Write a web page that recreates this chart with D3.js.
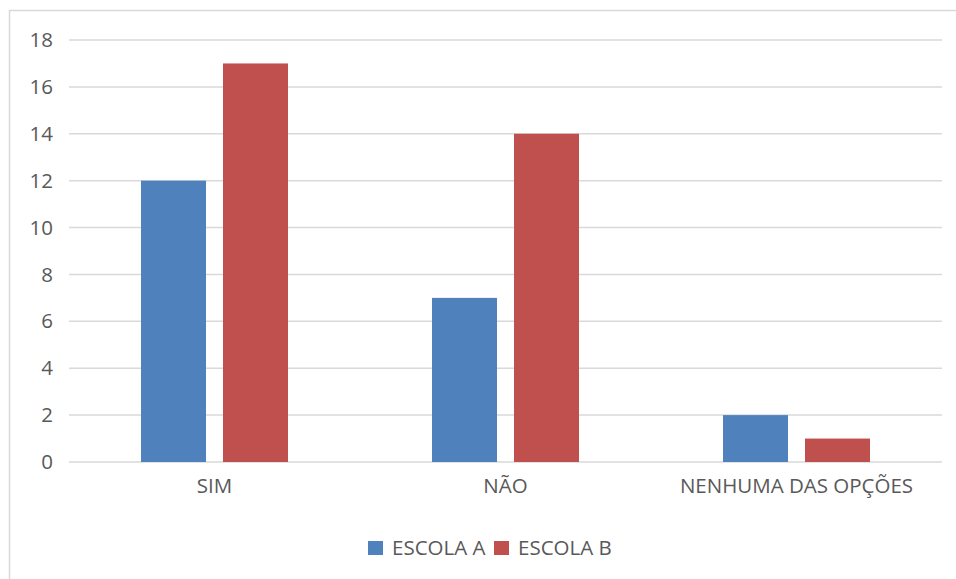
<!DOCTYPE html>
<html><head><meta charset="utf-8">
<script src="https://cdn.jsdelivr.net/npm/d3@7"></script>
<style>body{margin:0;background:#fff;} text{font-family:"Open Sans",sans-serif;fill:#595959;}</style>
</head><body><svg id="c" width="956" height="579"></svg>
<script>
const categories = ["SIM", "NÃO", "NENHUMA DAS OPÇÕES"];
const seriesNames = ["ESCOLA A", "ESCOLA B"];
const escolaA = [12, 7, 2];
const escolaB = [17, 14, 1];
const yTicks = [0, 2, 4, 6, 8, 10, 12, 14, 16, 18];
const colors = ["#4f81bd", "#c0504d"];
const fs = "20.5px";

const svg = d3.select("#c");
// outer border
svg.append("rect").attr("x", 9.5).attr("y", 10.5).attr("width", 960).attr("height", 600)
  .attr("fill", "none").attr("stroke", "#d9d9d9").attr("stroke-width", 1.5);

const x0 = d3.scaleBand().domain(categories).range([69, 942]).paddingInner(0).paddingOuter(0);
const y = d3.scaleLinear().domain([0, 18]).range([462, 40]);

// gridlines
svg.append("g").selectAll("line").data(yTicks).join("line")
  .attr("x1", 69).attr("x2", 942).attr("y1", d => y(d)).attr("y2", d => y(d))
  .attr("stroke", "#d9d9d9").attr("stroke-width", 1.5);

// y axis labels
const yAxis = d3.axisLeft(y).tickValues(yTicks).tickSize(0).tickPadding(0);
const gy = svg.append("g").attr("transform", "translate(53,0)").call(yAxis);
gy.select(".domain").remove();
gy.selectAll("text").style("font-size", fs).attr("fill", "#595959").style("font-family", "'Open Sans',sans-serif");

// bars
const barW = 65, gap = 17;
const data = categories.map((c, i) => ({c, vals: [escolaA[i], escolaB[i]]}));
const groups = svg.append("g").selectAll("g").data(data).join("g")
  .attr("transform", d => `translate(${x0(d.c) + (x0.bandwidth() - (2 * barW + gap)) / 2},0)`);
groups.selectAll("rect").data(d => d.vals).join("rect")
  .attr("x", (d, j) => j * (barW + gap)).attr("width", barW)
  .attr("y", d => y(d)).attr("height", d => y(0) - y(d))
  .attr("fill", (d, j) => colors[j]);

// x axis labels
const xAxis = d3.axisBottom(x0).tickSize(0).tickPadding(0);
const gx = svg.append("g").attr("transform", "translate(0,478)").call(xAxis);
gx.select(".domain").remove();
gx.selectAll("text").style("font-size", fs).attr("fill", "#595959").style("font-family", "'Open Sans',sans-serif");

// legend
const leg = svg.append("g");
const legX = [368, 494];
seriesNames.forEach((n, i) => {
  leg.append("rect").attr("x", legX[i]).attr("y", 541).attr("width", 15).attr("height", 14).attr("fill", colors[i]);
  leg.append("text").attr("x", legX[i] + 24).attr("y", 555).style("font-size", fs).text(n);
});
</script></body></html>
